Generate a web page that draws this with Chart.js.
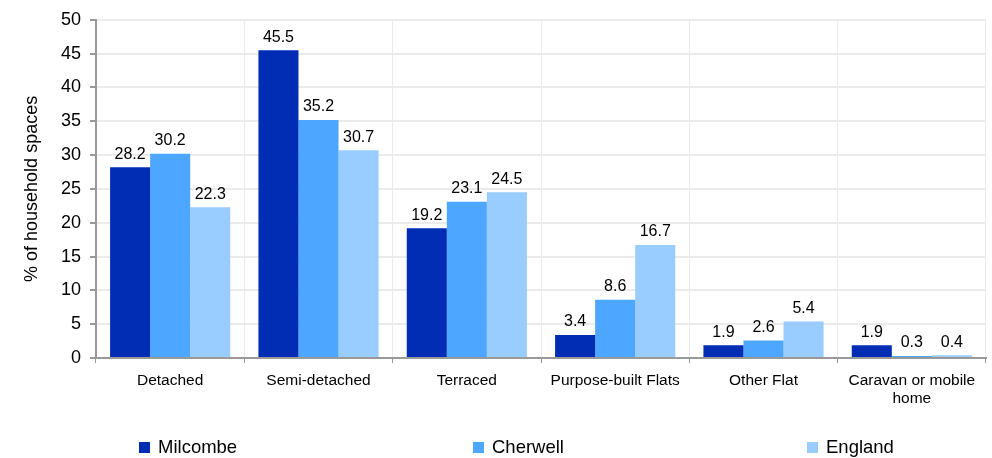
<!DOCTYPE html>
<html>
<head>
<meta charset="utf-8">
<script src="https://cdn.jsdelivr.net/npm/chart.js@4"></script>
<style>
  html, body { margin: 0; padding: 0; background: #fff; }
  #wrap { width: 992px; height: 458px; }
</style>
</head>
<body>
<div id="wrap"><canvas id="houseChart" width="992" height="458"></canvas></div>
<script>
var categories = ["Detached", "Semi-detached", "Terraced", "Purpose-built Flats", "Other Flat", ["Caravan or mobile", "home"]];
var milcombe = [28.2, 45.5, 19.2, 3.4, 1.9, 1.9];
var cherwell = [30.2, 35.2, 23.1, 8.6, 2.6, 0.3];
var england = [22.3, 30.7, 24.5, 16.7, 5.4, 0.4];
var yTicks = [0, 5, 10, 15, 20, 25, 30, 35, 40, 45, 50];

var font = "'Liberation Sans', Arial, sans-serif";

// value labels above each bar
var barLabels = {
  id: "barLabels",
  afterDatasetsDraw: function (chart) {
    var ctx = chart.ctx;
    ctx.save();
    ctx.font = "16px " + font;
    ctx.fillStyle = "#000";
    ctx.textAlign = "center";
    ctx.textBaseline = "bottom";
    chart.data.datasets.forEach(function (ds, i) {
      chart.getDatasetMeta(i).data.forEach(function (bar, j) {
        ctx.fillText(ds.data[j].toFixed(1), bar.x, bar.y - 5);
      });
    });
    ctx.restore();
  },
};

// legend spread across the bottom
var spreadLegend = {
  id: "spreadLegend",
  afterDraw: function (chart) {
    var ctx = chart.ctx;
    ctx.save();
    ctx.font = "18.5px " + font;
    ctx.textBaseline = "middle";
    ctx.textAlign = "left";
    chart.data.datasets.forEach(function (ds, i) {
      var x = 139 + i * 334;
      var y = 447;
      ctx.fillStyle = ds.backgroundColor;
      ctx.fillRect(x, y - 5, 11, 11);
      ctx.fillStyle = "#000";
      ctx.fillText(ds.label, x + 19, y + 1);
    });
    ctx.restore();
  },
};

var ctx = document.getElementById("houseChart").getContext("2d");
var houseChart = new Chart(ctx, {
  type: "bar",
  plugins: [barLabels, spreadLegend],
  data: {
    labels: categories,
    datasets: [
      { label: "Milcombe", data: milcombe, backgroundColor: "#002DB3" },
      { label: "Cherwell", data: cherwell, backgroundColor: "#4DA6FF" },
      { label: "England", data: england, backgroundColor: "#99CCFF" },
    ],
  },
  options: {
    responsive: false,
    animation: false,
    categoryPercentage: 0.81,
    barPercentage: 1,
    layout: { padding: { left: 0, top: 16, right: 6, bottom: 40 } },
    plugins: {
      legend: { display: false },
      tooltip: { enabled: false },
    },
    scales: {
      x: {
        grid: { color: "#ebebeb", tickColor: "#999", tickLength: 5, offset: true },
        border: { color: "#999", width: 2 },
        ticks: { color: "#000", font: { family: font, size: 15.5 }, maxRotation: 0, padding: 8 },
        afterFit: function (scale) { scale.height = 60; },
      },
      y: {
        min: 0,
        max: 50,
        afterBuildTicks: function (scale) {
          scale.ticks = yTicks.map(function (v) { return { value: v }; });
        },
        grid: { color: "#ebebeb", tickColor: "#999", tickLength: 6, lineWidth: 2 },
        border: { color: "#999", width: 2 },
        ticks: { color: "#000", font: { family: font, size: 18 }, padding: 9 },
        title: {
          display: true,
          text: "% of household spaces",
          color: "#000",
          font: { family: font, size: 18 },
          padding: { top: 21, bottom: 0 },
        },
        afterFit: function (scale) { scale.width = 96; },
      },
    },
  },
});
</script>
</body>
</html>
